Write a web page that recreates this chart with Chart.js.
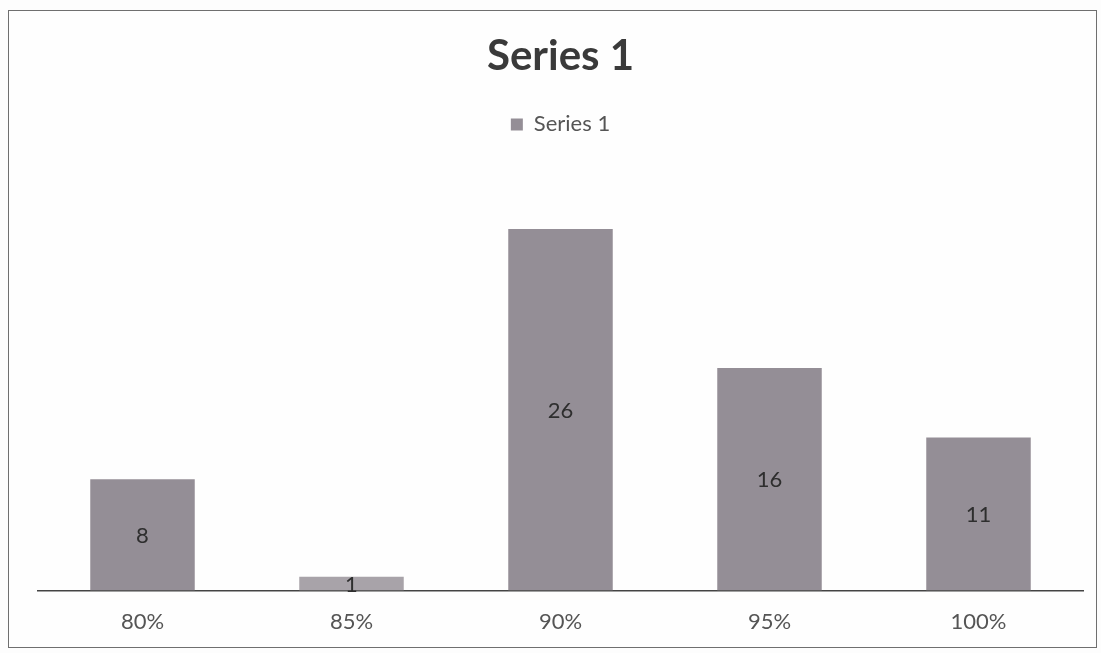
<!DOCTYPE html>
<html>
<head>
<meta charset="utf-8">
<script src="https://cdn.jsdelivr.net/npm/chart.js@4"></script>
<style>
  body { margin: 0; background: #fdfdfd; }
  #box {
    position: absolute; left: 8px; top: 10px;
    width: 1087px; height: 636px;
    border: 1.5px solid #6f6f6f;
    background: #fefefe;
  }
  canvas { display: block; }
</style>
</head>
<body>
<div id="box"><canvas id="chart" width="1087" height="636"></canvas></div>
<script>
const categories = ['80%', '85%', '90%', '95%', '100%'];
const seriesName = 'Series 1';
const values = [8, 1, 26, 16, 11];
const barColors = ['#948e96', '#a8a3a9', '#948e96', '#948e96', '#948e96'];

// 柱子中间的数值标签
const barLabels = {
    id: 'barLabels',
    afterDatasetsDraw(chart) {
        const ctx = chart.ctx;
        const meta = chart.getDatasetMeta(0);
        ctx.save();
        ctx.font = '22px Lato';
        ctx.fillStyle = '#2e2e2e';
        ctx.textAlign = 'center';
        ctx.textBaseline = 'middle';
        meta.data.forEach((bar, i) => {
            const y = (bar.y + bar.base) / 2;
            ctx.fillText(values[i], bar.x, y + 1);
        });
        ctx.restore();
    }
};

new Chart(document.getElementById('chart').getContext('2d'), {
    type: 'bar',
    data: {
        labels: categories,
        datasets: [{
            label: seriesName,
            data: values,
            backgroundColor: barColors,
            borderWidth: 0,
            categoryPercentage: 1,
            barPercentage: 0.5
        }]
    },
    options: {
        responsive: false,
        animation: false,
        layout: { padding: { top: 4, left: 29, right: 13, bottom: 2 } },
        scales: {
            x: {
                grid: { display: false },
                border: { display: true, color: '#444', width: 1.5 },
                ticks: { color: '#555', font: { family: 'Lato', size: 22 }, padding: 10 }
            },
            y: {
                display: false,
                min: 0,
                max: 32
            }
        },
        plugins: {
            title: {
                display: true,
                text: seriesName,
                color: '#3a3a3a',
                font: { family: 'Lato', size: 42, weight: 'bold' },
                padding: { top: 16, bottom: 22 }
            },
            legend: {
                position: 'top',
                labels: {
                    color: '#555',
                    font: { family: 'Lato', size: 22 },
                    boxWidth: 12,
                    boxHeight: 12
                }
            },
            tooltip: { enabled: false }
        }
    },
    plugins: [barLabels]
});
</script>
</body>
</html>
